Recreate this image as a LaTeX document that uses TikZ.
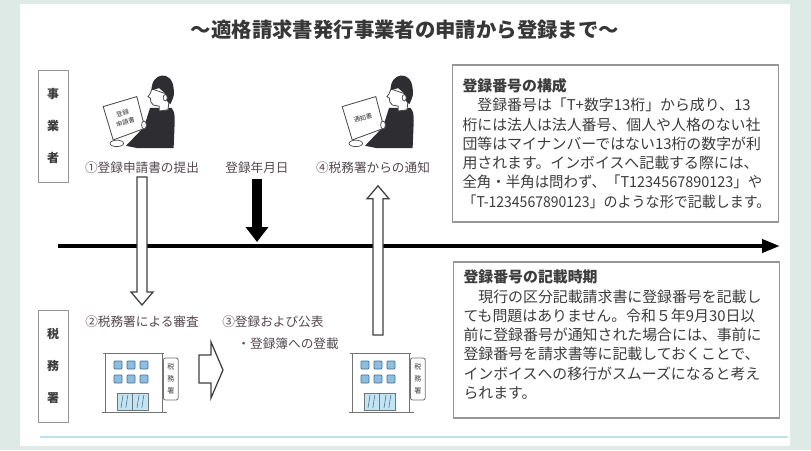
\documentclass[tikz,border=0pt]{standalone}
\usepackage{fontspec}
\setmainfont{Noto Sans CJK JP}
\usepackage{graphicx}
\usepackage{tikz}
\usetikzlibrary{arrows.meta, calc}
\definecolor{pagemint}{RGB}{222,234,230}
\definecolor{titlegray}{RGB}{55,55,55}
\definecolor{labeltext}{RGB}{85,72,80}
\definecolor{bodytext}{RGB}{60,60,60}
\definecolor{boxgray}{RGB}{150,150,150}
\definecolor{rulecyan}{RGB}{190,226,240}
\definecolor{jacket}{RGB}{45,45,50}
\definecolor{panefill}{RGB}{140,190,225}
\definecolor{paneline}{RGB}{70,110,140}
\definecolor{glassfill}{RGB}{195,228,242}

% block arrow with hollow body: tail, tip
\newcommand{\hollowarrow}[2]{%
  \draw[blockline] let \p1=(#1), \p2=(#2), \p3=($(#2)!0.325cm!(#1)$) in
    (\x1-0.125cm,\y1) -- (\x1-0.125cm,\y3) -- (\x1-0.275cm,\y3) -- (\x1,\y2)
    -- (\x1+0.275cm,\y3) -- (\x1+0.125cm,\y3) -- (\x1+0.125cm,\y1) -- cycle;}

\begin{document}
\begin{tikzpicture}[
    steplabel/.style={text=labeltext, font=\fontsize{9}{11}\selectfont, inner sep=2pt},
    sidebox/.style={draw=boxgray, line width=0.7pt, minimum width=0.75cm, minimum height=2.8cm,
      align=center, text=bodytext, font=\fontsize{8.5}{22.7}\selectfont\bfseries},
    infobox/.style={draw=boxgray, line width=0.8pt, inner xsep=0.24cm, inner ysep=0.2cm,
      text=bodytext, font=\fontsize{10.6}{13.7}\selectfont},
    blockline/.style={draw=black!75, line width=0.9pt, fill=white},
    timeline/.style={line width=3pt, -{Triangle[length=0.45cm,width=0.32cm]}},
    datearrow/.style={line width=7pt, -{Triangle[length=0.375cm,width=0.55cm]}},
    wall/.style={draw=black!55, line width=0.6pt},
    pane/.style={draw=paneline, fill=panefill, line width=0.5pt, rounded corners=0.6pt},
    reader/.pic={
      % jacket
      \fill[jacket] (0.25,0.125) -- (0.79,0.125) .. controls (0.88,0.0) .. (0.84,-0.88)
        -- (-0.05,-0.88) -- (-0.35,-0.82) -- (0.1,-0.35) -- cycle;
      % paper
      \draw[black!70, fill=white, line width=0.6pt] (-0.92,0.16) -- (-0.08,0.41)
        -- (0.125,-0.38) -- (-0.67,-0.675) -- cycle;
      \node[text=black!80, font=\fontsize{4.5}{7}\selectfont, align=center, rotate=17]
        at (-0.4,-0.12) {#1};
      % hands
      \draw[black!70, fill=white, line width=0.5pt] (-0.58,-0.76) ellipse (0.17 and 0.08);
      \draw[black!70, fill=white, line width=0.5pt] (0.1,-0.3) ellipse (0.06 and 0.1);
      % face and hair
      \draw[black!70, fill=white, line width=0.6pt] (0.3,0.6) -- (0.25,0.48) -- (0.2,0.41)
        -- (0.26,0.37) -- (0.27,0.28) -- (0.33,0.2) -- (0.48,0.17) -- (0.48,0.05)
        -- (0.7,0.08) -- (0.74,0.45) -- cycle;
      \fill[jacket] (0.29,0.575) .. controls (0.28,1.02) and (0.8,1.08) .. (0.84,0.62)
        .. controls (0.86,0.45) .. (0.76,0.22) -- (0.67,0.3) -- (0.62,0.5) -- (0.48,0.62) -- cycle;
      \draw[black!70, fill=white, line width=0.5pt] (0.63,0.38) ellipse (0.05 and 0.08);
    },
    taxoffice/.pic={
      \draw[wall, fill=white] (0,0) rectangle (1.425,1.475);
      \draw[wall] (-0.05,1.475) -- (1.475,1.475);
      \foreach \x in {0.325,0.65,0.975}
        \foreach \y in {0.825,1.175}
          \draw[pane] (\x-0.1,\y-0.1) rectangle (\x+0.1,\y+0.1);
      % entrance
      \draw[wall, fill=glassfill] (0.3,0.05) rectangle (1.075,0.475);
      \foreach \x in {0.4,0.52,0.8,0.92}
        \draw[paneline, line width=0.4pt] (\x,0.1) -- (\x+0.05,0.42);
      \draw[wall] (0.69,0.05) -- (0.69,0.475);
      % sign board
      \draw[wall] (1.425,1.22) -- (1.5,1.22);
      \draw[wall, fill=white, rounded corners=1.5pt] (1.46,0.3) rectangle (1.83,1.35);
      \node[text=black!75, align=center, font=\fontsize{5}{8.5}\selectfont] at (1.645,0.84) {税\\務\\署};
      \draw[wall] (-0.08,0) -- (1.55,0);
      \coordinate (-top) at (0.7,1.475);
    }]

  % page and panel
  \fill[pagemint] (0,0) rectangle (20.275,11.25);
  \useasboundingbox (0,0) rectangle (20.275,11.25);
  \fill[white] (0.5,0.1) rectangle (19.75,11.15);
  \draw[rulecyan, line width=1pt] (1.0,0.325) -- (19.7,0.325);

  \node[text=titlegray, font=\fontsize{14.5}{17}\selectfont\bfseries] (title) at (10.125,10.5)
    {～適格請求書発行事業者の申請から登録まで～};

  % row headings
  \node[sidebox] (business) at (1.325,8.1) {事\\業\\者};
  \node[sidebox] (taxbureau) at (1.325,2.1) {税\\務\\署};

  % time axis
  \coordinate (tl-start) at (1.45,5.1);
  \coordinate (tl-end) at (19.5,5.1);
  \draw[timeline] (tl-start) -- (tl-end);

  % business side
  \pic at (3.5,8.425) {reader={登録\\申請書}};
  \pic at (9.475,8.425) {reader={通知書}};
  \node[steplabel] (submit) at (3.55,7.05) {①登録申請書の提出};
  \node[steplabel] (regdate) at (6.425,7.05) {登録年月日};
  \node[steplabel] (notice) at (9.325,7.05) {④税務署からの通知};

  % tax office side
  \pic (office1) at (2.625,0.95) {taxoffice};
  \pic (office2) at (8.8,0.95) {taxoffice};
  \node[steplabel] (review) at (3.55,3.2) {②税務署による審査};
  \node[steplabel, anchor=west] (register) at (5.48,3.2) {③登録および公表};
  \node[steplabel, anchor=west] (ledger) at (5.86,2.65) {・登録簿への登載};

  % arrows
  \hollowarrow{submit.south}{$(review.north)+(0,0.2)$}
  \hollowarrow{$(office2-top)+(-0.05,0.45)$}{$(notice.south)+(0.075,-0.22)$}
  \draw[datearrow, shorten <=0.05cm, shorten >=0.1cm] (regdate.south) -- (regdate.south |- tl-start);
  \draw[blockline] (4.975,2.375) -- (5.275,2.375) -- (5.275,2.7) -- (5.575,2.0)
    -- (5.275,1.3) -- (5.275,1.675) -- (4.975,1.675) -- cycle;

  % notes
  \node[infobox, inner ysep=0.2125cm] (structure) at (15.3875,7.6625)
    {\parbox[c][3.5cm][c]{7.65cm}{\textbf{登録番号の構成}\\
      　登録番号は「T+数字13桁」から成り、13\\
      桁には法人は法人番号、個人や人格のない社\\
      団等はマイナンバーではない13桁の数字が利\\
      用されます。インボイスへ記載する際には、\\
      \scalebox{0.97}[1]{全角・半角は問わず、「T1234567890123」や}\\
      \scalebox{0.94}[1]{「T-1234567890123」のような形で記載します。}}};
  \node[infobox] (timing) at (15.4125,2.75)
    {\parbox[c][3.5cm][t]{7.65cm}{\textbf{登録番号の記載時期}\\
      　現行の区分記載請求書に登録番号を記載し\\
      ても問題はありません。令和５年9月30日以\\
      前に登録番号が通知された場合には、事前に\\
      登録番号を請求書等に記載しておくことで、\\
      インボイスへの移行がスムーズになると考え\\
      られます。}};

\end{tikzpicture}
\end{document}
